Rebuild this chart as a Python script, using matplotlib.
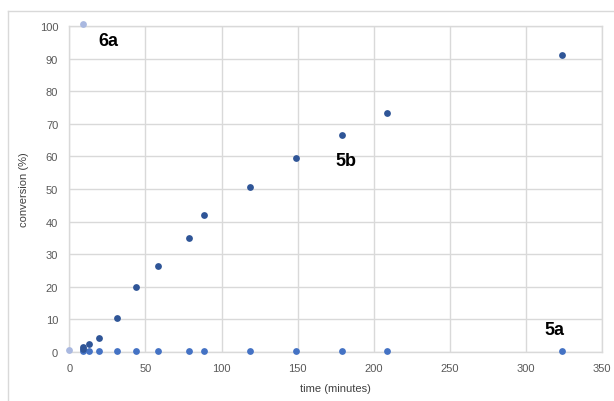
import matplotlib.pyplot as plt
from matplotlib.lines import Line2D

plt.rcParams['font.family'] = ['Liberation Sans', 'DejaVu Sans']

# series 6a (light)
t_6a = [0, 9]
conv_6a = [0.5, 100.5]

# series 5b (dark)
t_5b = [9, 9, 13, 19.5, 31, 43.5, 58.5, 78.5, 88.5, 118.5, 149, 179, 209, 324]
conv_5b = [1.5, 1.0, 2.4, 4.3, 10.5, 20, 26.5, 35, 42, 50.7, 59.5, 66.5, 73.3, 91]

# series 5a (medium)
t_5a = [9, 13, 19.5, 31, 43.5, 58.5, 78.5, 88.5, 118.5, 149, 179, 209, 324]
conv_5a = [0.4, 0.4, 0.4, 0.4, 0.4, 0.4, 0.4, 0.4, 0.4, 0.4, 0.4, 0.4, 0.4]

fig = plt.figure(figsize=(6.14, 4.02), dpi=100)
ax = fig.add_axes([0.1129, 0.1219, 0.8676, 0.8109])

ax.scatter(t_5a, conv_5a, s=24, color='#4472c4', zorder=3, clip_on=False, linewidths=0)
ax.scatter(t_5b, conv_5b, s=24, color='#2f5597', zorder=4, clip_on=False, linewidths=0)
ax.scatter(t_6a, conv_6a, s=24, color='#a9b8e0', zorder=5, clip_on=False, linewidths=0)

ax.set_xlim(0, 350)
ax.set_ylim(0, 100)
ax.set_xticks(range(0, 351, 50))
ax.set_yticks(range(0, 101, 10))
ax.grid(True, color='#d9d9d9', linewidth=1)
ax.set_axisbelow(True)
for sp in ax.spines.values():
    sp.set_color('#d9d9d9')
    sp.set_linewidth(1)
ax.tick_params(length=0, labelsize=8, colors='#595959', pad=8)

ax.set_xlabel('time (minutes)', fontsize=8, color='#404040', labelpad=7)
ax.set_ylabel('conversion (%)', fontsize=8, color='#404040', labelpad=8)

ax.text(25.5, 95.5, '6a', fontsize=13, fontweight='bold', ha='center', va='center')
ax.text(182, 58.8, '5b', fontsize=13, fontweight='bold', ha='center', va='center')
ax.text(319, 6.9, '5a', fontsize=13, fontweight='bold', ha='center', va='center')

# chart border (cropped)
fig.add_artist(Line2D([8 / 614, 8 / 614], [0, 1 - 12 / 402], transform=fig.transFigure, color='#d9d9d9', lw=1))
fig.add_artist(Line2D([8 / 614, 1], [1 - 12 / 402, 1 - 12 / 402], transform=fig.transFigure, color='#d9d9d9', lw=1))

plt.savefig('out.png', dpi=100)
